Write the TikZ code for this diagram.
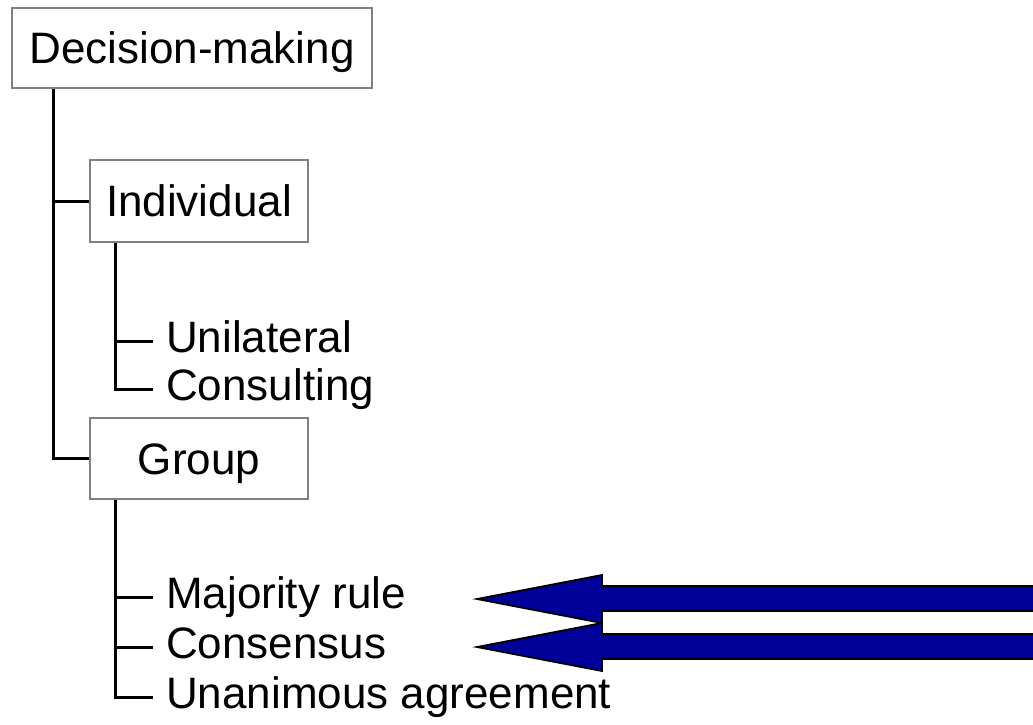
\documentclass[tikz,border=0pt]{standalone}
\usepackage{fontspec}
\setmainfont{Liberation Sans}
\definecolor{boxgray}{HTML}{808080}
\definecolor{arrblue}{HTML}{000099}
\tikzset{
  treebox/.style={draw=boxgray, line width=2.8pt, fill=white, inner sep=0pt,
    font=\fontsize{44}{50}\selectfont, text height=31pt, text depth=0pt},
  leaf/.style={anchor=west, inner xsep=13pt, inner ysep=0pt,
    font=\fontsize{44}{50}\selectfont, text height=31pt, text depth=9pt},
  link/.style={line width=3pt, black},
  bigarrow/.style={fill=arrblue, draw=black, line width=1.8pt, line join=miter}
}
\begin{document}
\begin{tikzpicture}[x=1pt,y=-1pt]
\clip (0,0) rectangle (1033,724);
\useasboundingbox (0,0) rectangle (1033,724);
% boxes
\node[treebox, minimum width=360pt, minimum height=80pt] (dm) at (192,48) {Decision-making};
\node[treebox, minimum width=218pt, minimum height=82pt] (ind) at (199,201) {Individual};
\node[treebox, minimum width=218pt, minimum height=81pt] (grp) at (199,458.5) {Group};
% leaves
\node[leaf] (uni) at (153,341) {Unilateral};
\node[leaf] (con) at (153,389) {Consulting};
\node[leaf] (maj) at (153,597) {Majority rule};
\node[leaf] (cns) at (153,647) {Consensus};
\node[leaf] (una) at (153,697) {Unanimous agreement};
% connectors
\draw[link] ([xshift=43pt]dm.south west) |- (ind.west);
\draw[link] ([xshift=43pt]dm.south west) |- (grp.west);
\draw[link] ([xshift=27pt]ind.south west) |- (uni.west);
\draw[link] ([xshift=27pt]ind.south west) |- (con.west);
\draw[link] ([xshift=27pt]grp.south west) |- (maj.west);
\draw[link] ([xshift=27pt]grp.south west) |- (cns.west);
\draw[link] ([xshift=27pt]grp.south west) |- (una.west);
% arrows
\draw[bigarrow] (477,599) -- (602,575) -- (602,586) -- (1045,586) -- (1045,611) -- (602,611) -- (602,623) -- cycle;
\draw[bigarrow] (477,647) -- (602,623) -- (602,634) -- (1045,634) -- (1045,659) -- (602,659) -- (602,671) -- cycle;
\end{tikzpicture}
\end{document}
